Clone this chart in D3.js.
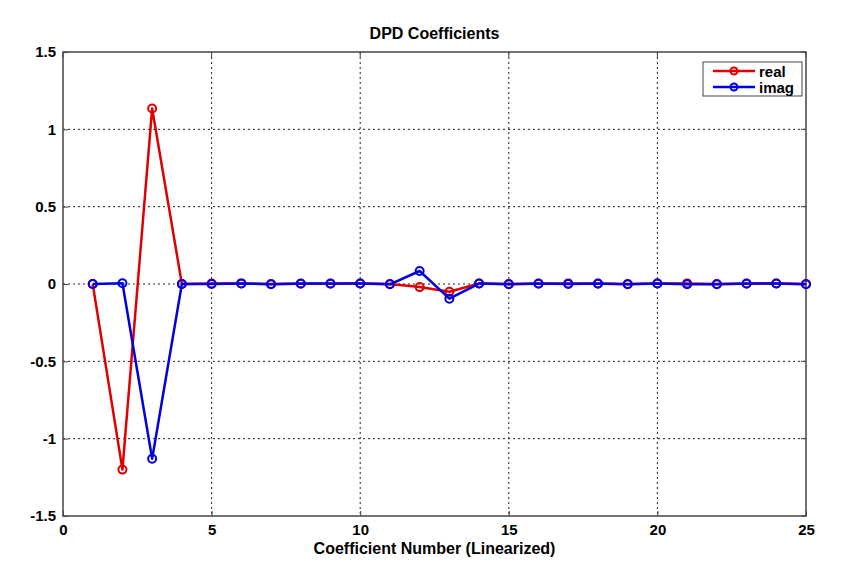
<!DOCTYPE html>
<html><head><meta charset="utf-8">
<script src="https://cdn.jsdelivr.net/npm/d3@7"></script>
<style>body{margin:0;background:#fff;} text{font-family:Arial,"Liberation Sans",sans-serif;font-weight:bold;}</style>
</head><body>
<script>
const coeffIndex = d3.range(1, 26);
const realValues = [0, -1.2, 1.135, 0, 0.003, 0.004, 0, 0.002, 0.002, 0.003, 0, -0.02, -0.05, 0.003, 0, 0.002, 0.004, 0.002, 0, 0.003, 0.004, 0, 0.002, 0.003, 0];
const imagValues = [0, 0.005, -1.13, 0, 0, 0.004, -0.002, 0.003, 0.003, 0.003, -0.002, 0.084, -0.095, 0.003, -0.002, 0.003, 0, 0.003, -0.002, 0.003, -0.002, -0.002, 0.003, 0.003, -0.002];
const xTicks = [0, 5, 10, 15, 20, 25];
const yTicks = [-1.5, -1, -0.5, 0, 0.5, 1, 1.5];
const seriesNames = ["real", "imag"];
const seriesColors = ["#e00000", "#0000e0"];
const chartTitle = "DPD Coefficients";
const xLabel = "Coefficient Number (Linearized)";

const W = 850, H = 578;
const L = 63, R = 806, T = 52, B = 516;
const svg = d3.select("body").append("svg").attr("width", W).attr("height", H);
svg.append("rect").attr("width", W).attr("height", H).attr("fill", "#fff");
const x = d3.scaleLinear().domain([0, 25]).range([L, R]);
const y = d3.scaleLinear().domain([-1.5, 1.5]).range([B, T]);

// grid
const g = svg.append("g");
g.selectAll(".gx").data(xTicks.slice(1, -1)).join("line")
  .attr("x1", d => x(d)).attr("x2", d => x(d)).attr("y1", T).attr("y2", B)
  .attr("stroke", "#222").attr("stroke-width", 1).attr("stroke-dasharray", "2,3");
g.selectAll(".gy").data(yTicks.slice(1, -1)).join("line")
  .attr("y1", d => y(d)).attr("y2", d => y(d)).attr("x1", L).attr("x2", R)
  .attr("stroke", "#222").attr("stroke-width", 1).attr("stroke-dasharray", "2,3");

// axes
const fmt = d => String(d);
const xAxis = d3.axisBottom(x).tickValues(xTicks).tickSize(-5).tickPadding(8).tickFormat(fmt);
const yAxis = d3.axisLeft(y).tickValues(yTicks).tickSize(-5).tickPadding(7).tickFormat(fmt);
const gx = svg.append("g").attr("transform", `translate(0,${B})`).call(xAxis);
const gy = svg.append("g").attr("transform", `translate(${L},0)`).call(yAxis);
[gx, gy].forEach(a => {
  a.select(".domain").remove();
  a.selectAll("line").attr("stroke", "#444");
  a.selectAll("text").attr("font-size", 15).attr("fill", "#000").style("font-family", "Arial, 'Liberation Sans', sans-serif").style("font-weight", "bold");
});
// top/right ticks
svg.selectAll(".tt").data(xTicks).join("line").attr("x1", d => x(d)).attr("x2", d => x(d)).attr("y1", T).attr("y2", T + 5).attr("stroke", "#444");
svg.selectAll(".rt").data(yTicks).join("line").attr("y1", d => y(d)).attr("y2", d => y(d)).attr("x1", R).attr("x2", R - 5).attr("stroke", "#444");
// box
svg.append("rect").attr("x", L).attr("y", T).attr("width", R - L).attr("height", B - T)
  .attr("fill", "none").attr("stroke", "#444").attr("stroke-width", 1.5);

// series
const allSeries = [realValues, imagValues];
const line = d3.line().x((d, i) => x(coeffIndex[i])).y(d => y(d));
allSeries.forEach((vals, si) => {
  svg.append("path").datum(vals).attr("d", line).attr("fill", "none")
    .attr("stroke", seriesColors[si]).attr("stroke-width", 2.5).attr("stroke-linejoin", "round");
  svg.append("g").selectAll("circle").data(vals).join("circle")
    .attr("cx", (d, i) => x(coeffIndex[i])).attr("cy", d => y(d)).attr("r", 4)
    .attr("fill", "none").attr("stroke", seriesColors[si]).attr("stroke-width", 2);
});

// legend
const lg = svg.append("g");
lg.append("rect").attr("x", 703).attr("y", 62).attr("width", 99).attr("height", 34)
  .attr("fill", "#fff").attr("stroke", "#444").attr("stroke-width", 1);
seriesNames.forEach((n, i) => {
  const yy = 71 + i * 16;
  lg.append("line").attr("x1", 713).attr("x2", 755).attr("y1", yy).attr("y2", yy)
    .attr("stroke", seriesColors[i]).attr("stroke-width", 2.5);
  lg.append("circle").attr("cx", 734).attr("cy", yy).attr("r", 3.5).attr("fill", "none")
    .attr("stroke", seriesColors[i]).attr("stroke-width", 2);
  lg.append("text").attr("x", 759).attr("y", yy + 5.5).attr("font-size", 15).text(n);
});

svg.append("text").attr("x", (L + R) / 2).attr("y", 39).attr("text-anchor", "middle").attr("font-size", 16).text(chartTitle);
svg.append("text").attr("x", (L + R) / 2).attr("y", 554).attr("text-anchor", "middle").attr("font-size", 16).text(xLabel);
</script>
</body></html>
